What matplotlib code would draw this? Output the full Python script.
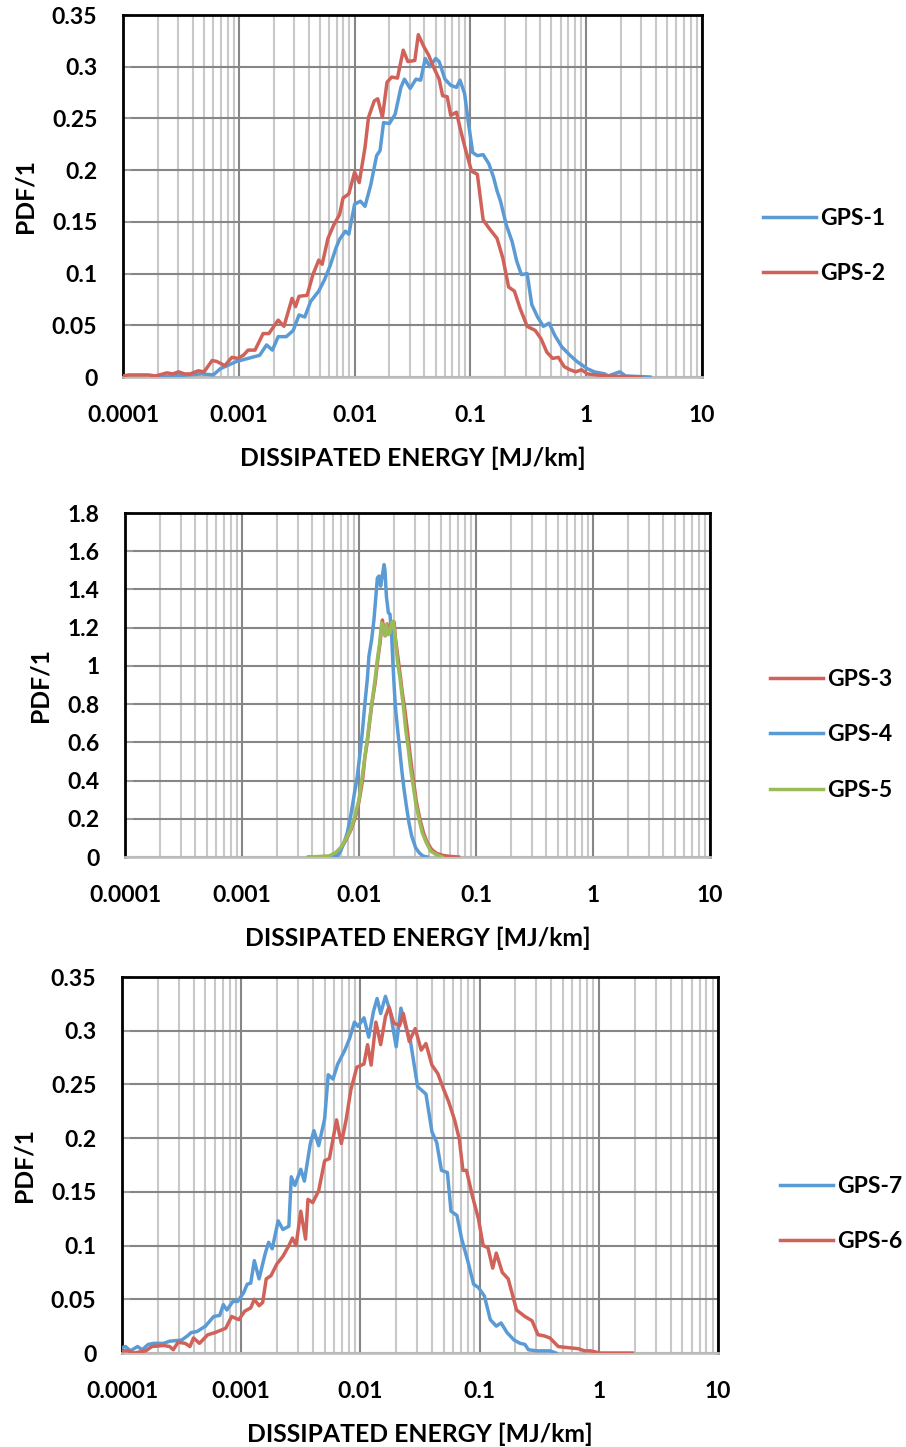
import numpy as np
import matplotlib
matplotlib.use("Agg")
import matplotlib.pyplot as plt
from matplotlib.ticker import FixedLocator, LogLocator, NullFormatter

plt.rcParams['font.family'] = ['Lato', 'DejaVu Sans']
plt.rcParams['font.weight'] = 'bold'

# ---------------- data: panel 1 ----------------
gps1_log_energy = [-3.685, -3.32, -3.22, -3.16, -3.02, -2.92, -2.82, -2.76, -2.71, -2.66, -2.59, -2.53,
                   -2.48, -2.43, -2.38, -2.31, -2.26, -2.21, -2.16, -2.13, -2.08, -2.05, -2.00, -1.95,
                   -1.91, -1.86, -1.81, -1.78, -1.75, -1.70, -1.65, -1.60, -1.57, -1.52, -1.47, -1.43,
                   -1.39, -1.35, -1.30, -1.27, -1.22, -1.17, -1.12, -1.09, -1.05, -1.02, -0.98, -0.94,
                   -0.89, -0.84, -0.80, -0.77, -0.74, -0.69, -0.64, -0.60, -0.56, -0.51, -0.47, -0.42,
                   -0.37, -0.32, -0.27, -0.21, -0.14, -0.08, 0.01, 0.07, 0.16, 0.19, 0.29, 0.34, 0.55]
gps1_pdf = [0.0, 0.003, 0.002, 0.008, 0.015, 0.018, 0.021, 0.031, 0.026, 0.039, 0.039, 0.045,
            0.060, 0.058, 0.073, 0.083, 0.094, 0.108, 0.125, 0.133, 0.141, 0.138, 0.167, 0.170,
            0.165, 0.186, 0.214, 0.219, 0.246, 0.245, 0.254, 0.280, 0.288, 0.279, 0.288, 0.287,
            0.308, 0.300, 0.308, 0.305, 0.288, 0.282, 0.280, 0.287, 0.274, 0.248, 0.217, 0.214,
            0.215, 0.206, 0.193, 0.180, 0.170, 0.147, 0.131, 0.112, 0.099, 0.100, 0.070, 0.058,
            0.049, 0.052, 0.040, 0.029, 0.021, 0.015, 0.008, 0.005, 0.003, 0.001, 0.005, 0.001, 0.0]

gps2_log_energy = [-4.00, -3.95, -3.88, -3.78, -3.72, -3.62, -3.57, -3.52, -3.47, -3.42, -3.35, -3.30,
                   -3.23, -3.19, -3.12, -3.06, -3.01, -2.96, -2.92, -2.86, -2.79, -2.74, -2.66, -2.61,
                   -2.54, -2.51, -2.48, -2.41, -2.36, -2.31, -2.28, -2.23, -2.18, -2.13, -2.10, -2.05,
                   -2.00, -1.96, -1.91, -1.88, -1.83, -1.80, -1.76, -1.72, -1.68, -1.63, -1.58, -1.54,
                   -1.48, -1.45, -1.40, -1.36, -1.32, -1.27, -1.24, -1.20, -1.17, -1.12, -1.09, -1.04,
                   -0.99, -0.94, -0.89, -0.84, -0.77, -0.72, -0.67, -0.62, -0.57, -0.51, -0.44, -0.39,
                   -0.34, -0.29, -0.24, -0.19, -0.14, -0.09, -0.04, 0.01, 0.09, 0.16, 0.47]
gps2_pdf = [0.001, 0.002, 0.002, 0.002, 0.001, 0.004, 0.003, 0.005, 0.003, 0.003, 0.006, 0.005,
            0.016, 0.015, 0.011, 0.019, 0.018, 0.021, 0.026, 0.026, 0.042, 0.042, 0.055, 0.049,
            0.076, 0.068, 0.078, 0.079, 0.099, 0.113, 0.109, 0.134, 0.147, 0.157, 0.173, 0.177,
            0.198, 0.188, 0.222, 0.251, 0.267, 0.269, 0.251, 0.285, 0.290, 0.289, 0.316, 0.305,
            0.306, 0.331, 0.319, 0.311, 0.300, 0.288, 0.272, 0.271, 0.253, 0.256, 0.241, 0.219,
            0.199, 0.196, 0.152, 0.144, 0.134, 0.115, 0.087, 0.083, 0.066, 0.049, 0.045, 0.037,
            0.024, 0.018, 0.019, 0.010, 0.007, 0.005, 0.007, 0.003, 0.002, 0.001, 0.0]

# ---------------- data: panel 2 ----------------
gps3_log_energy = [-2.43, -2.25, -2.20, -2.15, -2.11, -2.07, -2.03, -2.00, -1.97, -1.95, -1.93, -1.91,
                   -1.89, -1.86, -1.84, -1.82, -1.80, -1.79, -1.77, -1.76, -1.745, -1.73, -1.72, -1.70,
                   -1.69, -1.675, -1.66, -1.645, -1.63, -1.61, -1.59, -1.57, -1.55, -1.53, -1.51, -1.48,
                   -1.45, -1.42, -1.38, -1.34, -1.28, -1.22, -1.15]
gps3_pdf = [0.0, 0.003, 0.02, 0.05, 0.09, 0.14, 0.21, 0.29, 0.40, 0.52, 0.60, 0.70,
            0.80, 0.92, 1.03, 1.12, 1.24, 1.20, 1.16, 1.22, 1.17, 1.18, 1.22, 1.23,
            1.15, 1.08, 1.01, 0.94, 0.86, 0.78, 0.68, 0.57, 0.47, 0.38, 0.29, 0.20,
            0.13, 0.08, 0.04, 0.02, 0.008, 0.003, 0.0]

gps4_log_energy = [-2.30, -2.185, -2.157, -2.128, -2.100, -2.071, -2.043, -2.014, -1.994, -1.972, -1.949,
                   -1.929, -1.915, -1.892, -1.872, -1.858, -1.843, -1.829, -1.815, -1.801, -1.786,
                   -1.778, -1.766, -1.749, -1.735, -1.721, -1.709, -1.698, -1.687, -1.670, -1.652,
                   -1.635, -1.615, -1.595, -1.573, -1.550, -1.516, -1.487, -1.453, -1.416]
gps4_pdf = [0.0, 0.005, 0.031, 0.075, 0.127, 0.214, 0.319, 0.424, 0.528, 0.650, 0.807,
            0.929, 1.051, 1.138, 1.243, 1.347, 1.46, 1.47, 1.417, 1.47, 1.53,
            1.50, 1.365, 1.278, 1.27, 1.156, 0.999, 0.877, 0.772, 0.668, 0.563,
            0.458, 0.354, 0.267, 0.180, 0.110, 0.049, 0.023, 0.005, 0.0]

gps5_log_energy = [-2.427, -2.256, -2.199, -2.157, -2.114, -2.071, -2.034, -2.000, -1.972, -1.949, -1.929,
                   -1.909, -1.886, -1.863, -1.843, -1.823, -1.806, -1.792, -1.778, -1.766, -1.749,
                   -1.735, -1.721, -1.707, -1.692, -1.681, -1.670, -1.652, -1.635, -1.618, -1.601,
                   -1.578, -1.558, -1.536, -1.516, -1.487, -1.459, -1.425, -1.387, -1.345, -1.288]
gps5_pdf = [0.0, 0.005, 0.023, 0.049, 0.092, 0.145, 0.214, 0.302, 0.424, 0.528, 0.615,
            0.720, 0.824, 0.929, 1.034, 1.121, 1.225, 1.190, 1.156, 1.217, 1.164,
            1.173, 1.225, 1.234, 1.156, 1.086, 1.016, 0.946, 0.859, 0.772, 0.668,
            0.563, 0.458, 0.371, 0.284, 0.197, 0.127, 0.075, 0.031, 0.014, 0.0]

# ---------------- data: panel 3 ----------------
gps7_log_energy = [-4.00, -3.97, -3.93, -3.87, -3.83, -3.78, -3.73, -3.65, -3.60, -3.50, -3.45, -3.42,
                   -3.37, -3.30, -3.23, -3.18, -3.15, -3.12, -3.07, -3.03, -2.98, -2.95, -2.92, -2.89,
                   -2.85, -2.80, -2.77, -2.74, -2.69, -2.65, -2.60, -2.58, -2.55, -2.50, -2.47, -2.42,
                   -2.39, -2.35, -2.30, -2.27, -2.23, -2.19, -2.13, -2.09, -2.05, -2.02, -1.97, -1.93,
                   -1.89, -1.86, -1.83, -1.79, -1.75, -1.70, -1.66, -1.62, -1.58, -1.52, -1.45, -1.40,
                   -1.36, -1.32, -1.27, -1.24, -1.19, -1.15, -1.10, -1.05, -1.01, -0.96, -0.91, -0.86,
                   -0.82, -0.77, -0.71, -0.66, -0.62, -0.59, -0.52, -0.46, -0.41, -0.36]
gps7_pdf = [0.005, 0.006, 0.002, 0.006, 0.003, 0.008, 0.009, 0.009, 0.011, 0.012, 0.016, 0.019,
            0.020, 0.025, 0.034, 0.035, 0.045, 0.040, 0.048, 0.048, 0.056, 0.064, 0.065, 0.086,
            0.069, 0.092, 0.103, 0.097, 0.123, 0.115, 0.118, 0.164, 0.156, 0.171, 0.160, 0.195,
            0.207, 0.193, 0.218, 0.259, 0.255, 0.269, 0.282, 0.293, 0.308, 0.304, 0.312, 0.294,
            0.318, 0.330, 0.316, 0.332, 0.318, 0.285, 0.321, 0.304, 0.290, 0.248, 0.241, 0.206,
            0.196, 0.170, 0.168, 0.132, 0.128, 0.106, 0.086, 0.064, 0.061, 0.053, 0.031, 0.025,
            0.028, 0.019, 0.012, 0.009, 0.008, 0.003, 0.002, 0.002, 0.002, 0.0]

gps6_log_energy = [-4.00, -3.95, -3.90, -3.80, -3.75, -3.65, -3.60, -3.57, -3.53, -3.47, -3.43, -3.40,
                   -3.35, -3.28, -3.22, -3.13, -3.08, -3.02, -2.97, -2.92, -2.89, -2.85, -2.82, -2.79,
                   -2.75, -2.70, -2.65, -2.60, -2.57, -2.54, -2.50, -2.46, -2.44, -2.40, -2.35, -2.30,
                   -2.26, -2.20, -2.16, -2.12, -2.08, -2.03, -1.97, -1.94, -1.91, -1.87, -1.83, -1.79,
                   -1.76, -1.72, -1.67, -1.64, -1.59, -1.54, -1.49, -1.45, -1.40, -1.35, -1.30, -1.26,
                   -1.21, -1.17, -1.14, -1.11, -1.06, -1.01, -0.97, -0.93, -0.89, -0.86, -0.81, -0.76,
                   -0.69, -0.62, -0.56, -0.51, -0.46, -0.41, -0.34, -0.26, -0.17, -0.12, -0.07, 0.01, 0.28]
gps6_pdf = [0.002, 0.002, 0.0, 0.002, 0.006, 0.007, 0.006, 0.003, 0.010, 0.009, 0.006, 0.014,
            0.009, 0.017, 0.019, 0.023, 0.034, 0.031, 0.039, 0.042, 0.050, 0.044, 0.047, 0.069,
            0.072, 0.083, 0.090, 0.100, 0.107, 0.100, 0.132, 0.106, 0.143, 0.140, 0.151, 0.179,
            0.181, 0.217, 0.195, 0.217, 0.245, 0.266, 0.269, 0.287, 0.268, 0.308, 0.287, 0.313,
            0.322, 0.307, 0.305, 0.316, 0.290, 0.302, 0.282, 0.288, 0.268, 0.260, 0.245, 0.234,
            0.217, 0.199, 0.170, 0.170, 0.146, 0.125, 0.100, 0.098, 0.079, 0.093, 0.075, 0.069,
            0.040, 0.034, 0.030, 0.017, 0.016, 0.014, 0.006, 0.005, 0.004, 0.002, 0.002, 0.0, 0.0]

x_ticks = [0.0001, 0.001, 0.01, 0.1, 1, 10]
x_tick_labels = ["0.0001", "0.001", "0.01", "0.1", "1", "10"]
y_ticks_a = [0, 0.05, 0.1, 0.15, 0.2, 0.25, 0.3, 0.35]
y_tick_labels_a = ["0", "0.05", "0.1", "0.15", "0.2", "0.25", "0.3", "0.35"]
y_ticks_b = [0, 0.2, 0.4, 0.6, 0.8, 1.0, 1.2, 1.4, 1.6, 1.8]
y_tick_labels_b = ["0", "0.2", "0.4", "0.6", "0.8", "1", "1.2", "1.4", "1.6", "1.8"]

x_label = "DISSIPATED ENERGY [MJ/km]"
y_label = "PDF/1"

BLUE = "#5B9BD5"
RED = "#D0625A"
GREEN = "#9BBB59"

W, H = 906, 1447
fig = plt.figure(figsize=(W / 100, H / 100), dpi=100)

TICK_FS = 16.5
LABEL_FS = 17.8
LEG_FS = 16.5


def px_axes(l, t, r, b):
    return fig.add_axes([l / W, 1 - b / H, (r - l) / W, (b - t) / H])


def style(ax, yticks, ylabels, ymax):
    ax.set_xscale("log")
    ax.set_xlim(1e-4, 10)
    ax.set_ylim(0, ymax)
    ax.xaxis.set_major_locator(FixedLocator(x_ticks))
    ax.xaxis.set_minor_locator(LogLocator(base=10, subs=np.arange(2, 10), numticks=20))
    ax.xaxis.set_minor_formatter(NullFormatter())
    ax.set_xticks(x_ticks)
    ax.set_xticklabels(x_tick_labels)
    ax.set_yticks(yticks)
    ax.set_yticklabels(ylabels)
    ax.grid(which="major", color="#868686", linewidth=1.5, zorder=0)
    ax.grid(which="minor", axis="x", color="#C8C8C8", linewidth=1.5, zorder=0)
    ax.set_axisbelow(True)
    for s in ["top", "left", "right"]:
        ax.spines[s].set_color("black")
        ax.spines[s].set_linewidth(2)
    ax.spines["bottom"].set_color("#BFBFBF")
    ax.spines["bottom"].set_linewidth(2)
    ax.tick_params(axis="x", which="both", length=0, pad=20, labelsize=TICK_FS)
    ax.tick_params(axis="y", which="major", length=6, direction="in", color="#A0A0A0",
                   width=1.2, pad=18.5, labelsize=TICK_FS)
    for lab in ax.get_xticklabels() + ax.get_yticklabels():
        lab.set_fontweight("bold")
    ax.set_xlabel(x_label, fontsize=LABEL_FS, fontweight="bold", labelpad=15)
    ax.set_ylabel(y_label, fontsize=LABEL_FS, fontweight="bold", labelpad=11)


def legend(ax, handles, labels, x_px, yc_px):
    leg = ax.legend(handles, labels, loc="center left",
                    bbox_to_anchor=(x_px / W, 1 - yc_px / H),
                    bbox_transform=fig.transFigure,
                    frameon=False, fontsize=LEG_FS, handlelength=2.3, handletextpad=0.2,
                    labelspacing=1.5, borderaxespad=0, borderpad=0)
    for t in leg.get_texts():
        t.set_fontweight("bold")


LW = 2.5

# Panel 1
ax1 = px_axes(123, 15, 702, 377)
l1, = ax1.plot(10 ** np.array(gps1_log_energy), gps1_pdf, color=BLUE, lw=LW, zorder=3)
l2, = ax1.plot(10 ** np.array(gps2_log_energy), gps2_pdf, color=RED, lw=LW, zorder=3)
style(ax1, y_ticks_a, y_tick_labels_a, 0.35)
legend(ax1, [l1, l2], ["GPS-1", "GPS-2"], 763, 246)

# Panel 2
ax2 = px_axes(125, 513, 710, 857)
l3, = ax2.plot(10 ** np.array(gps3_log_energy), gps3_pdf, color=RED, lw=LW, zorder=3)
l4, = ax2.plot(10 ** np.array(gps4_log_energy), gps4_pdf, color=BLUE, lw=LW, zorder=3)
l5, = ax2.plot(10 ** np.array(gps5_log_energy), gps5_pdf, color=GREEN, lw=LW, zorder=3)
style(ax2, y_ticks_b, y_tick_labels_b, 1.8)
legend(ax2, [l3, l4, l5], ["GPS-3", "GPS-4", "GPS-5"], 770, 735)

# Panel 3
ax3 = px_axes(122, 977, 718, 1353)
l7, = ax3.plot(10 ** np.array(gps7_log_energy), gps7_pdf, color=BLUE, lw=LW, zorder=3)
l6, = ax3.plot(10 ** np.array(gps6_log_energy), gps6_pdf, color=RED, lw=LW, zorder=3)
style(ax3, y_ticks_a, y_tick_labels_a, 0.35)
legend(ax3, [l7, l6], ["GPS-7", "GPS-6"], 780, 1214)

fig.savefig("out.png", dpi=100)
